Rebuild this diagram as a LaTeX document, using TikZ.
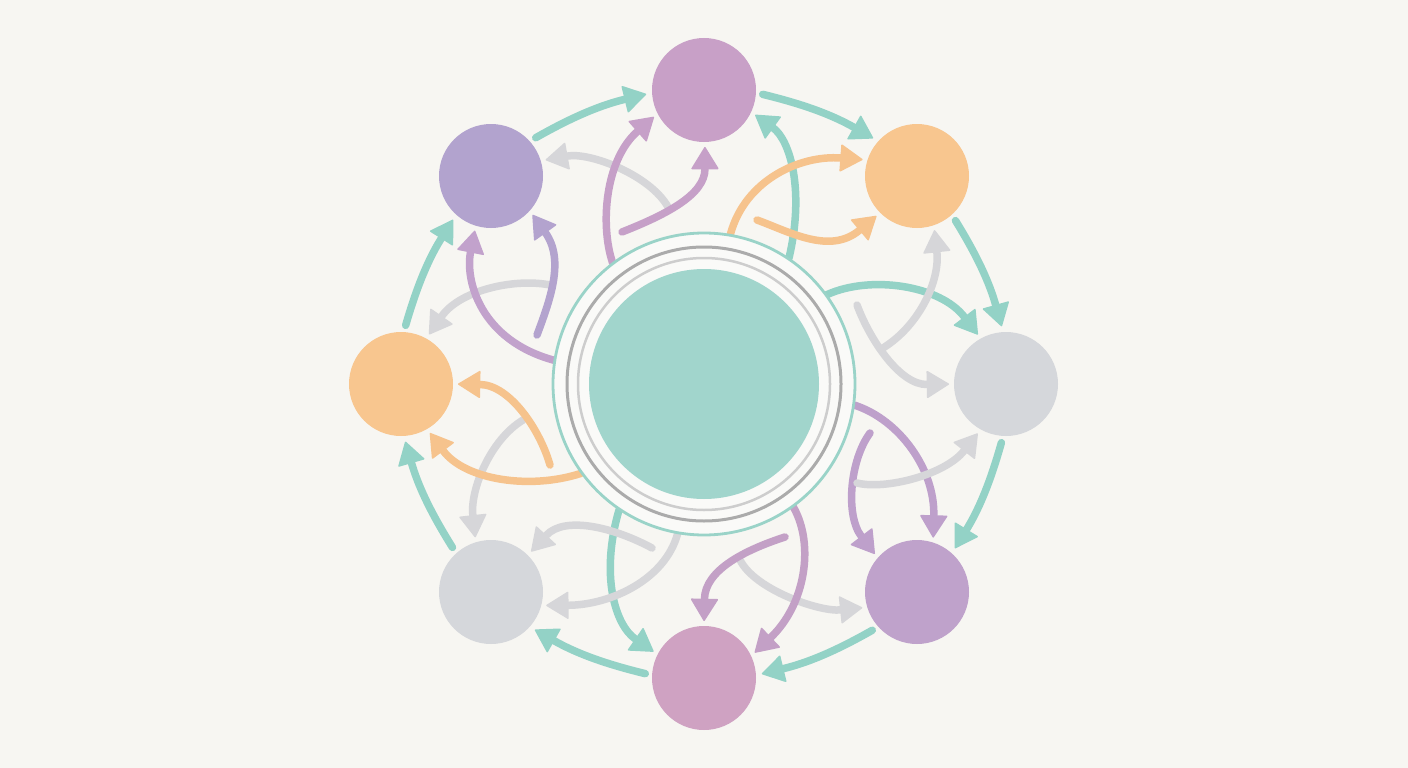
\documentclass[tikz,border=0pt]{standalone}
\usetikzlibrary{arrows.meta}
\definecolor{bgc}{HTML}{F7F6F2}
\definecolor{ringbg}{HTML}{FAFAF8}
\definecolor{tealarr}{HTML}{93D2C6}
\definecolor{tealring}{HTML}{9AD3C8}
\definecolor{centerfill}{HTML}{A1D5CC}
\definecolor{ringdark}{HTML}{ABABAB}
\definecolor{ringlight}{HTML}{CDCDCD}
\definecolor{grayarr}{HTML}{D6D6D9}
\definecolor{orangearr}{HTML}{F6C38D}
\definecolor{cN}{HTML}{C8A0C7}
\definecolor{cNE}{HTML}{F8C68F}
\definecolor{cE}{HTML}{D5D7DB}
\definecolor{cSE}{HTML}{BFA2CB}
\definecolor{cS}{HTML}{CFA2C2}
\definecolor{cSW}{HTML}{D5D7DB}
\definecolor{cW}{HTML}{F8C68F}
\definecolor{cNW}{HTML}{B2A3CE}
\definecolor{purN}{HTML}{C6A0C8}
\definecolor{purSE}{HTML}{BEA0CB}
\definecolor{purS}{HTML}{C3A0C6}
\definecolor{purNW}{HTML}{B3A3CE}
\definecolor{purNWb}{HTML}{C2A2CC}
\begin{document}
\begin{tikzpicture}[x=1pt,y=-1pt,
  ball/.style={circle, inner sep=0pt, outer sep=0pt, minimum size=104pt},
  arr/.style={line width=7.5pt, line cap=round, -{Triangle[length=23pt,width=28pt,line width=1.5pt,round]}, shorten >=5pt},
  outerarr/.style={arr, draw=tealarr, shorten <=7pt, shorten >=6pt},
  ringnode/.style={circle, inner sep=0pt, outer sep=0pt}
]
\fill[bgc] (0,0) rectangle (1408,768);
\useasboundingbox (0,0) rectangle (1408,768);

% outer nodes
\node[ball, fill=cN]  (N)  at (704,90)  {};
\node[ball, fill=cNE] (NE) at (917,176) {};
\node[ball, fill=cE]  (E)  at (1006,384) {};
\node[ball, fill=cSE] (SE) at (917,592) {};
\node[ball, fill=cS]  (S)  at (704,678) {};
\node[ball, fill=cSW] (SW) at (491,592) {};
\node[ball, fill=cW]  (W)  at (401,384) {};
\node[ball, fill=cNW] (NW) at (491,176) {};

% invisible centre anchor
\node[ringnode, minimum size=304pt] (C) at (704,384) {};

% outer ring arrows
\draw[outerarr] (NW.42)  to[bend left=8] (N.183);
\draw[outerarr] (N.357)  to[bend left=8] (NE.138);
\draw[outerarr] (NE.312) to[bend left=8] (E.93);
\draw[outerarr] (E.267)  to[bend left=8] (SE.48);
\draw[outerarr] (SE.222) to[bend left=8] (S.3);
\draw[outerarr] (S.177)  to[bend left=8] (SW.318);
\draw[outerarr] (SW.132) to[bend left=8] (W.273);
\draw[outerarr] (W.87)   to[bend left=8] (NW.228);

% free start points
\coordinate (a1) at (668,207);
\coordinate (a3) at (622,232);
\coordinate (a6) at (757,220);
\coordinate (a8) at (857,305);
\coordinate (a9) at (883,348);
\coordinate (a12) at (870,433);
\coordinate (a13) at (857,483);
\coordinate (a14) at (740,560);
\coordinate (a16) at (785,537);
\coordinate (a18) at (652,548);
\coordinate (a20) at (523,420);
\coordinate (a22) at (550,465);
\coordinate (a23) at (550,285);
\coordinate (a25) at (537,335);

% inner arrows
\draw[arr, draw=grayarr] (a1) .. controls (650,175) and (590,152) .. (NW.17);
\draw[arr, draw=purN] (C.127) .. controls (600,225) and (605,160) .. (N.207);
\draw[arr, draw=purN] (a3) .. controls (665,215) and (705,195) .. (N.271);
\draw[arr, draw=tealarr] (C.56) .. controls (805,190) and (790,140) .. (N.335);
\draw[arr, draw=orangearr] (C.80) .. controls (745,180) and (800,155) .. (NE.162);
\draw[arr, draw=orangearr] (a6) .. controls (790,232) and (830,255) .. (NE.225);
\draw[arr, draw=tealarr] (C.36) .. controls (870,275) and (940,285) .. (E.119);
\draw[arr, draw=grayarr] (a8) .. controls (870,340) and (900,385) .. (E.180);
\draw[arr, draw=grayarr] (a9) .. controls (920,325) and (940,280) .. (NE.289);
\draw[arr, draw=purSE] (C.352) .. controls (900,420) and (935,470) .. (SE.72);
\draw[arr, draw=purSE] (a12) .. controls (850,460) and (845,515) .. (SE.139);
\draw[arr, draw=grayarr] (a13) .. controls (885,490) and (945,475) .. (E.241);
\draw[arr, draw=grayarr] (a14) .. controls (755,590) and (820,612) .. (SE.197);
\draw[arr, draw=purS] (C.306) .. controls (815,545) and (805,605) .. (S.25);
\draw[arr, draw=purS] (a16) .. controls (745,550) and (705,570) .. (S.90);
\draw[arr, draw=tealarr] (C.236) .. controls (600,575) and (615,625) .. (S.153);
\draw[arr, draw=grayarr] (a18) .. controls (615,528) and (565,515) .. (SW.45);
\draw[arr, draw=grayarr] (C.260) .. controls (665,580) and (610,605) .. (SW.345);
\draw[arr, draw=grayarr] (a20) .. controls (490,440) and (470,490) .. (SW.107);
\draw[arr, draw=orangearr] (C.216) .. controls (530,490) and (465,480) .. (W.300);
\draw[arr, draw=orangearr] (a22) .. controls (540,430) and (510,385) .. (W.0);
\draw[arr, draw=grayarr] (a23) .. controls (515,278) and (460,290) .. (W.61);
\draw[arr, draw=purNWb] (C.171) .. controls (480,340) and (465,280) .. (NW.253);
\draw[arr, draw=purNW] (a25) .. controls (550,300) and (565,260) .. (NW.318);

% centre rings on top
\node[ringnode, minimum size=302pt, fill=ringbg, draw=tealring, line width=2.8pt] (C1) at (C) {};
\node[ringnode, minimum size=274pt, draw=ringdark, line width=3pt] (C2) at (C) {};
\node[ringnode, minimum size=252pt, draw=ringlight, line width=2.5pt] (C3) at (C) {};
\node[ringnode, minimum size=230pt, fill=centerfill] (C4) at (C) {};
\end{tikzpicture}
\end{document}
